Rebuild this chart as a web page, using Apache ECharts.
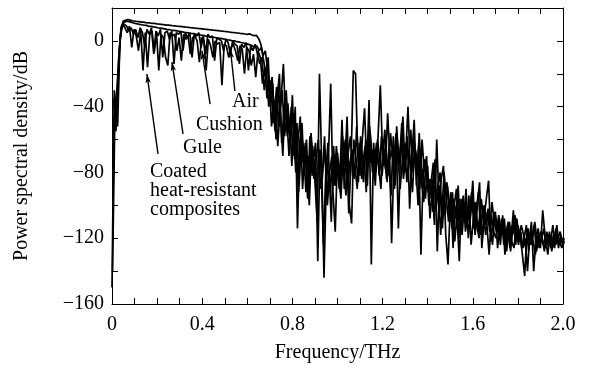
<!DOCTYPE html>
<html>
<head>
<meta charset="utf-8">
<title>Power spectral density</title>
<script src="https://cdn.jsdelivr.net/npm/echarts@6/dist/echarts.min.js"></script>
<style>
  html, body { margin: 0; padding: 0; background: #fff; }
  #chart { width: 593px; height: 368px; }
</style>
</head>
<body>
<div id="chart"></div>
<script>
// spectra sampled every 0.01 THz, each curve starts at a small offset
const step = 0.01
const startFreq = { air: 0, cushion: 0.0025, gule: 0.005, coated: 0.0075 }

// dB values, one row = 0.1 THz
const air = [
  -150, -30, -42, -10, 8, 12, 12.5, 13, 12.6, 12.2,
  12.1, 11.8, 11.7, 11.4, 11.4, 11.1, 11, 10.9, 10.6, 10.6,
  10.3, 10.2, 10, 9.9, 9.6, 9.6, 9.4, 9.2, 9.1, 8.9,
  8.8, 8.7, 8.5, 8.3, 8.2, 8, 7.9, 7.7, 7.6, 7.4,
  7.3, 7.1, 7, 6.8, 6.7, 6.5, 6.4, 6.2, 6, 5.9,
  5.7, 5.6, 5.4, 5.2, 5.1, 4.9, 4.8, 4.5, 4.4, 4.2,
  4, 4.3, 3.6, 3.2, 3.4, 1.5, -2, -9, -6, -18,
  -30, -22, -45, -28, -52, -35, -14, -48, -38, -60,
  -33, -72, -50, -88, -58, -66, -92, -70, -80, -64,
  -86, -110, -20, -75, -144, -88, -70, -26, -92, -116,
  -68, -84, -48, -90, -62, -105, -74, -18, -20, -70,
  -82, -60, -41, -78, -36, -136, -62, -80, -58, -27,
  -70, -54, -86, -62, -123, -74, -56, -114, -66, -46,
  -80, -58, -102, -70, -48, -88, -64, -130, -80, -96,
  -76, -108, -90, -112, -60, -98, -84, -76, -118, -136,
  -100, -92, -122, -106, -134, -96, -110, -90, -120, -104,
  -85, -118, -100, -86, -126, -108, -96, -85, -122, -110,
  -104, -126, -112, -118, -108, -128, -114, -120, -103, -124,
  -112, -118, -130, -143, -116, -122, -110, -140, -120, -114,
  -126, -103, -118, -124, -116, -128, -120, -114, -126, -118,
  -122
]

const cushion = [
  -140, -48, -28, -5, 9, 11, 12, 11.8, 11.4, 11,
  10.6, 10.4, 10, 9.8, 9.5, 9.4, 9, 8.8, 8.5, 8.4,
  8, 7.8, 7.6, 7.3, 7, 6.9, 6.6, 6.4, 6.2, 5.9,
  5.7, 5.5, 5.2, 5, 4.7, 4.5, 4.4, 4, 3.8, 3.6,
  3.4, 3.1, 2.9, 2.6, 2.5, 2.1, 1.9, 1.6, 1.5, 1.2,
  1, 0.7, 0.5, 0.1, 0, -0.5, -0.6, -1, -1.3, -1.6,
  -2, -2.4, -3, -4, -3, -6, -4, -12, -20, -10,
  -40, -26, -55, -34, -20, -62, -42, -30, -56, -44,
  -70, -40, -114, -62, -50, -82, -60, -95, -56, -74,
  -62, -134, -66, -84, -58, -96, -78, -110, -64, -88,
  -74, -92, -58, -76, -46, -100, -111, -60, -72, -86,
  -58, -74, -64, -88, -52, -70, -84, -62, -76, -90,
  -60, -78, -44, -72, -66, -90, -52, -76, -60, -84,
  -70, -40, -76, -92, -62, -82, -56, -86, -98, -72,
  -92, -84, -104, -72, -128, -88, -106, -80, -96, -110,
  -92, -126, -102, -112, -96, -118, -100, -114, -94, -124,
  -108, -98, -116, -104, -120, -100, -112, -130, -106, -116,
  -120, -110, -124, -106, -130, -116, -110, -122, -126, -112,
  -124, -116, -126, -120, -140, -118, -124, -112, -128, -120,
  -116, -124, -120, -130, -118, -122, -126, -112, -124, -120,
  -124
]

const gule = [
  -60, -38, -52, 0, 9, 10, 9, 6, 8, 4,
  7, 2, 8, 5, -3, 7, 4, 8, -8, 6,
  3, 7, -10, 5, 6, 1, 6, -14, 5, 4,
  6, -6, 5, 2, 5, -10, 4, 3, 5, -4,
  3, -8, 4, 2, 3, -12, 2, 1, 0, -6,
  1, -1, -8, 0, -2, -3, -14, -2, -4, -1,
  -18, -3, -6, -2, -8, -14, -10, -30, -18, -40,
  -24, -50, -36, -64, -42, -30, -58, -46, -70, -40,
  -54, -80, -60, -46, -90, -68, -78, -100, -62, -84,
  -72, -60, -90, -78, -66, -100, -80, -70, -88, -64,
  -80, -96, -70, -60, -88, -74, -66, -84, -52, -78,
  -66, -86, -60, -72, -56, -80, -70, -64, -82, -58,
  -76, -64, -82, -56, -70, -88, -60, -74, -50, -80,
  -62, -72, -54, -80, -66, -74, -90, -60, -80, -70,
  -100, -86, -74, -96, -88, -80, -114, -92, -86, -104,
  -110, -96, -106, -88, -118, -104, -98, -112, -102, -92,
  -114, -104, -92, -118, -100, -112, -104, -116, -98, -110,
  -116, -106, -118, -110, -122, -114, -126, -112, -118, -108,
  -120, -112, -118, -126, -114, -124, -118, -110, -122, -126,
  -120, -114, -126, -118, -122, -112, -124, -118, -122, -126,
  -120
]

const coated = [
  -35, -55, -25, 4, 10, 8, 5, 9, -4, 7,
  3, -6, 6, -18, 5, -16, 4, 6, -7, 5,
  -18, 4, 2, -10, -15, 5, 3, 4, -6, 2,
  -12, 4, 1, 3, -8, 2, 3, 0, -13, 2,
  0, -18, 1, -3, -10, 0, -2, -1, -27, -2,
  -3, -10, -4, -2, -6, -12, -3, -5, -20, -4,
  -6, -15, -8, -22, -6, -10, -26, -16, -35, -24,
  -52, -36, -60, -28, -46, -70, -38, -58, -48, -76,
  -44, -66, -92, -56, -74, -62, -96, -58, -82, -72,
  -94, -68, -76, -124, -82, -62, -92, -74, -86, -70,
  -90, -72, -78, -94, -68, -58, -82, -76, -90, -62,
  -84, -70, -92, -58, -74, -66, -88, -60, -72, -82,
  -66, -84, -74, -94, -58, -80, -68, -90, -74, -62,
  -86, -68, -82, -60, -76, -100, -66, -84, -72, -90,
  -84, -96, -76, -102, -90, -118, -94, -106, -88, -100,
  -114, -100, -90, -120, -108, -94, -116, -102, -110, -96,
  -100, -112, -120, -96, -108, -118, -102, -114, -124, -104,
  -112, -120, -108, -124, -116, -110, -128, -114, -106, -122,
  -116, -126, -120, -112, -128, -116, -122, -130, -118, -124,
  -120, -128, -116, -122, -126, -118, -124, -120, -116, -124,
  -122
]

const serif = '"Liberation Serif", "Times New Roman", serif'

function toPairs (values, f0) {
  return values.map((v, i) => [+(f0 + i * step).toFixed(4), v])
}

function curve (name, values, f0, extra) {
  return Object.assign({
    name: name,
    type: 'line',
    symbol: 'none',
    clip: true,
    lineStyle: { color: '#000', width: 1.7 },
    data: toPairs(values, f0)
  }, extra || {})
}

const chart = echarts.init(document.getElementById('chart'))

const tickStyle = { inside: true, length: 6, lineStyle: { color: '#000', width: 1 } }
const lineStyle = { onZero: false, lineStyle: { color: '#000', width: 1 } }

const option = {
  animation: false,
  backgroundColor: '#fff',
  grid: { left: 112, right: 30, top: 8, bottom: 62 },
  xAxis: [
    {
      type: 'value',
      min: 0,
      max: 2,
      interval: 0.1,
      name: 'Frequency/THz',
      nameLocation: 'middle',
      nameGap: 39,
      nameTextStyle: { color: '#000', fontFamily: serif, fontSize: 20 },
      axisLine: lineStyle,
      axisTick: tickStyle,
      splitLine: { show: false },
      axisLabel: {
        color: '#000',
        fontFamily: serif,
        fontSize: 20,
        margin: 11,
        formatter: v => {
          const k = v / 0.4
          if (Math.abs(k - Math.round(k)) > 1e-6) return ''
          return v === 0 ? '0' : v.toFixed(1)
        }
      }
    },
    {
      type: 'value',
      position: 'top',
      min: 0,
      max: 2,
      interval: 0.1,
      axisLine: lineStyle,
      axisTick: tickStyle,
      axisLabel: { show: false },
      splitLine: { show: false }
    }
  ],
  yAxis: [
    {
      type: 'value',
      min: -160,
      max: 20,
      interval: 20,
      name: 'Power spectral density/dB',
      nameLocation: 'middle',
      nameGap: 80,
      nameTextStyle: { color: '#000', fontFamily: serif, fontSize: 20 },
      axisLine: lineStyle,
      axisTick: tickStyle,
      splitLine: { show: false },
      axisLabel: {
        color: '#000',
        fontFamily: serif,
        fontSize: 20,
        margin: 8,
        formatter: v => {
          if (v % 40 !== 0) return ''
          return v < 0 ? '\u2212' + (-v) : String(v)
        }
      }
    },
    {
      type: 'value',
      position: 'right',
      min: -160,
      max: 20,
      interval: 20,
      axisLine: lineStyle,
      axisTick: tickStyle,
      axisLabel: { show: false },
      splitLine: { show: false }
    }
  ],
  series: [
    curve('Air', air, startFreq.air),
    curve('Cushion', cushion, startFreq.cushion),
    curve('Gule', gule, startFreq.gule),
    curve('Coated heat-resistant composites', coated, startFreq.coated, {
      // arrows from the labels to the curves
      markLine: {
        silent: true,
        symbol: ['none', 'arrow'],
        symbolSize: [4, 9],
        label: { show: false },
        lineStyle: { color: '#000', width: 1.4, type: 'solid' },
        data: [
          [{ coord: [0.204, -68.7] }, { coord: [0.155, -20.2] }],
          [{ coord: [0.315, -56.5] }, { coord: [0.266, -12.9] }],
          [{ coord: [0.435, -38.4] }, { coord: [0.399, -6] }],
          [{ coord: [0.545, -30.5] }, { coord: [0.525, -5] }]
        ]
      }
    })
  ],
  graphic: [
    { type: 'text', x: 232, y: 102, style: { text: 'Air', font: '20px ' + serif, fill: '#000', verticalAlign: 'middle' } },
    { type: 'text', x: 196, y: 125, style: { text: 'Cushion', font: '20px ' + serif, fill: '#000', verticalAlign: 'middle' } },
    { type: 'text', x: 183, y: 148, style: { text: 'Gule', font: '20px ' + serif, fill: '#000', verticalAlign: 'middle' } },
    {
      type: 'text',
      x: 150,
      y: 162,
      style: {
        text: 'Coated\nheat-resistant\ncomposites',
        font: '20px ' + serif,
        lineHeight: 19,
        fill: '#000',
        verticalAlign: 'top'
      }
    }
  ]
}

chart.setOption(option)
</script>
</body>
</html>
